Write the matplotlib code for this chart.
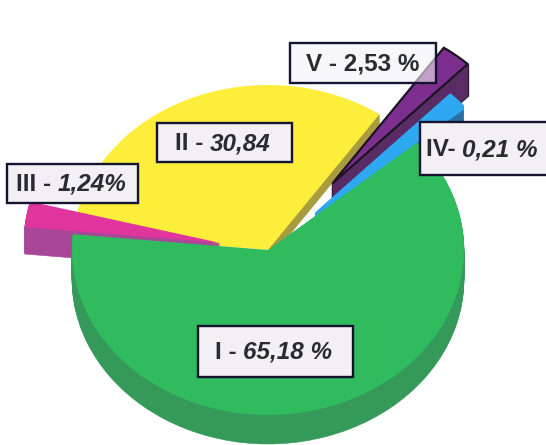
import matplotlib
matplotlib.use("Agg")
import matplotlib.pyplot as plt
from matplotlib.patches import Wedge, Rectangle

plt.rcParams['font.family'] = ['Liberation Sans', 'DejaVu Sans']

# Slice order, anticlockwise from the left edge of the green slice
categories = ['I', 'IV', 'V', 'II', 'III']
# Printed percentages, kept as text in the labels
printed_prefix = ['I - ', 'IV- ', 'V - 2,53 %', 'II - ', 'III - ']
printed_value = ['65,18 %', '0,21 %', '', '30,84', '1,24%']
# Shares as actually drawn in the picture (measured from slice angles);
# the original chart's drawing does not follow its printed values exactly.
drawn_share = [62.8, 1.6, 2.5, 30.6, 2.5]
explode = [0, 0.33, 0.52, 0, 0.25]
top_colors = ['#2fbb5e', '#2ea8f0', '#7c2f8e', '#fcee3a', '#e0359c']
side_colors = ['#35995a', '#2b6fa8', '#5a2c66', '#a89c3e', '#a8479a']
depth_px = [29, 29, 32, 11, 27]
order_z = [50, 20, 10, 5, 30]

W, H = 546, 445
CX, CY, RX, RY = 268, 250, 196, 165

fig = plt.figure(figsize=(W / 100, H / 100), dpi=100)
ax = fig.add_axes([0, 0, 1, 1])
wedges, _ = ax.pie(drawn_share, explode=explode, colors=top_colors,
                   startangle=174.5, radius=1, wedgeprops=dict(linewidth=0))
ax.set_aspect('auto')
ax.set_xlim(-CX / RX, (W - CX) / RX)
ax.set_ylim(-(H - CY) / RY, CY / RY)
ax.axis('off')

for w, side, top, depth, z, name in zip(wedges, side_colors, top_colors, depth_px,
                                        order_z, categories):
    cx, cy = w.center
    w.set_zorder(z + 2)
    # Only the yellow slice's right-hand cut face shows its side
    t2 = w.theta1 + 20 if name == 'II' else w.theta2
    if name == 'V':
        w.set_edgecolor('#1c1422')
        w.set_linewidth(1.6)
        for d in range(1, depth + 1):
            ax.add_patch(Wedge((cx, cy - d / RY), w.r, w.theta1, t2,
                               fc=side, ec='#1c1422', lw=1.6, zorder=z))
    for d in range(1, depth + 1):
        ax.add_patch(Wedge((cx, cy - d / RY), w.r, w.theta1, t2,
                           fc=side, ec=side, lw=0.4, zorder=z + 1))
    if name == 'IV':
        # The blue strip lies directly on the green edge
        for d in range(1, 5):
            ax.add_patch(Wedge((cx, cy - d / RY), w.r, w.theta1, t2,
                               fc=top, ec=top, lw=0.4, zorder=z + 1.5))

# The yellow surface runs on underneath the magenta slice up to the green edge
wedges[3].set_theta2(wedges[0].theta1)

# Label boxes in pixel coordinates
ov = fig.add_axes([0, 0, 1, 1], facecolor='none')
ov.set_xlim(0, W)
ov.set_ylim(H, 0)
ov.axis('off')

box_x0 = [198, 420, 290, 157, 7]
box_x1 = [353, 552, 436, 292, 138]
box_y0 = [326, 122, 43, 123, 164]
box_y1 = [377, 175, 83, 162, 203]
text_x = [215, 426, 306, 175, 16]
box_alpha = [1, 1, 0.6, 1, 1]
FS = 17.5

for i in range(5):
    ov.add_patch(Rectangle((box_x0[i], box_y0[i]), box_x1[i] - box_x0[i],
                           box_y1[i] - box_y0[i], facecolor=(0.95, 0.94, 0.96, box_alpha[i]),
                           edgecolor='#141430', linewidth=1.7, zorder=60))
    ym = (box_y0[i] + box_y1[i]) / 2 + 7.5
    a = ov.text(text_x[i], ym, printed_prefix[i], fontsize=FS, fontweight='bold',
                color='#2a2a32', va='baseline', ha='left', zorder=61)
    if printed_value[i]:
        ov.annotate(printed_value[i], xy=(1, 0), xycoords=a, va='bottom', ha='left',
                    fontsize=FS, fontweight='bold', fontstyle='italic',
                    color='#2a2a32', zorder=61)

fig.savefig('out.png', dpi=100)
